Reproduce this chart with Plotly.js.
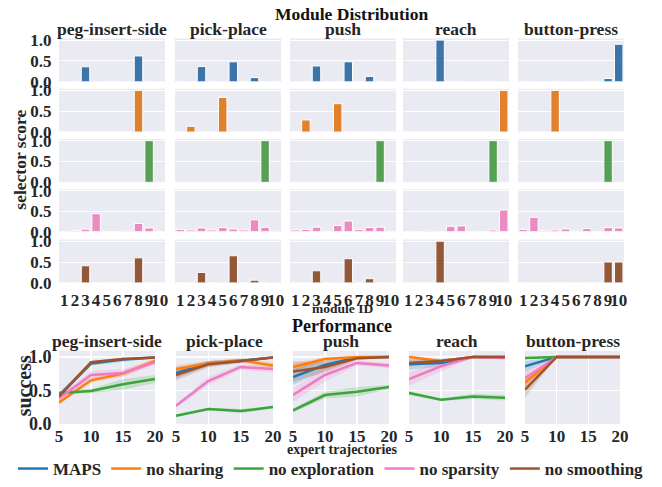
<!DOCTYPE html>
<html><head><meta charset="utf-8">
<script src="https://cdn.plot.ly/plotly-3.0.1.min.js"></script>
<style>html,body{margin:0;padding:0;background:#fff}#chart{width:662px;height:487px}</style>
</head><body><div id="chart"></div>
<script>
// ---------- data ----------
const tasks = ['peg-insert-side', 'pick-place', 'push', 'reach', 'button-press'];
const methods = ['MAPS', 'no sharing', 'no exploration', 'no sparsity', 'no smoothing'];
const moduleIds = ['1', '2', '3', '4', '5', '6', '7', '8', '9', '10'];
const trajectories = [5, 10, 15, 20];

// selector score per task (rows) and module 1..10 (columns)
const MAPS_score = [
  [0, 0, 0.36, 0, 0, 0, 0, 0.62, 0, 0],
  [0.01, 0, 0.365, 0, 0.005, 0.48, 0, 0.10, 0, 0],
  [0, 0, 0.38, 0, 0, 0.48, 0, 0.13, 0, 0],
  [0, 0, 0, 1.0, 0, 0, 0, 0, 0, 0],
  [0, 0, 0, 0, 0, 0, 0, 0, 0.08, 0.9]
];
const noSharing_score = [
  [0, 0, 0, 0, 0, 0, 0, 1.0, 0, 0],
  [0, 0.14, 0, 0, 0.83, 0, 0, 0, 0.01, 0],
  [0.01, 0.29, 0, 0, 0.68, 0, 0, 0, 0, 0],
  [0, 0, 0, 0, 0, 0, 0, 0, 0, 1.0],
  [0, 0, 0, 1.0, 0, 0, 0, 0, 0, 0]
];
const noExploration_score = [
  [0, 0, 0, 0, 0, 0, 0, 0, 1.0, 0],
  [0, 0, 0, 0, 0, 0, 0, 0, 1.0, 0],
  [0, 0, 0, 0, 0, 0, 0, 0, 1.0, 0],
  [0, 0, 0, 0, 0, 0, 0, 0, 1.0, 0],
  [0, 0, 0, 0, 0, 0, 0, 0, 1.0, 0]
];
const noSparsity_score = [
  [0.005, 0.03, 0.06, 0.44, 0.005, 0, 0.015, 0.2, 0.09, 0.005],
  [0.055, 0.04, 0.09, 0.04, 0.1, 0.065, 0.04, 0.29, 0.105, 0.015],
  [0.04, 0.055, 0.11, 0.005, 0.15, 0.26, 0.05, 0.1, 0.11, 0.005],
  [0.005, 0.005, 0.02, 0, 0.13, 0.14, 0.005, 0, 0.04, 0.53],
  [0.055, 0.35, 0.03, 0.04, 0.065, 0.01, 0.075, 0, 0.1, 0.09]
];
const noSmoothing_score = [
  [0, 0, 0.41, 0, 0, 0, 0, 0.6, 0, 0],
  [0, 0, 0.25, 0, 0.01, 0.65, 0, 0.065, 0, 0.01],
  [0, 0, 0.29, 0, 0.01, 0.58, 0, 0.1, 0, 0],
  [0, 0, 0, 1.0, 0, 0, 0, 0, 0, 0],
  [0, 0, 0, 0, 0, 0, 0, 0, 0.5, 0.5]
];

// success per task (rows) at 5,10,15,20 expert trajectories, and confidence half-widths
const MAPS_success = [
  [0.42, 0.90, 0.96, 0.99],
  [0.76, 0.90, 0.94, 0.99],
  [0.70, 0.88, 0.99, 1.00],
  [0.89, 0.91, 1.00, 1.00],
  [0.86, 1.00, 1.00, 1.00]
];
const MAPS_ci = [
  [0.05, 0.03, 0.03, 0.01], [0.08, 0.04, 0.03, 0.01], [0.12, 0.08, 0.02, 0.01],
  [0.08, 0.06, 0.01, 0.01], [0.08, 0, 0, 0]
];
const noSharing_success = [
  [0.32, 0.65, 0.75, 0.94],
  [0.82, 0.90, 0.95, 0.87],
  [0.85, 0.97, 1.00, 1.00],
  [1.00, 0.94, 1.00, 1.00],
  [0.62, 1.00, 1.00, 1.00]
];
const noSharing_ci = [
  [0.03, 0.04, 0.04, 0.04], [0.06, 0.04, 0.03, 0.05], [0.06, 0.03, 0.01, 0.01],
  [0.02, 0.03, 0, 0], [0.1, 0, 0, 0]
];
const noExploration_success = [
  [0.46, 0.49, 0.59, 0.67],
  [0.12, 0.22, 0.19, 0.25],
  [0.20, 0.43, 0.48, 0.55],
  [0.46, 0.36, 0.41, 0.39],
  [0.985, 1.00, 1.00, 1.00]
];
const noExploration_ci = [
  [0.03, 0.03, 0.08, 0.06], [0.02, 0.02, 0.03, 0.02], [0.03, 0.05, 0.07, 0.03],
  [0.03, 0.02, 0.04, 0.04], [0.02, 0, 0, 0]
];
const noSparsity_success = [
  [0.38, 0.73, 0.76, 0.92],
  [0.27, 0.64, 0.85, 0.82],
  [0.43, 0.73, 0.91, 0.87],
  [0.67, 0.86, 1.00, 0.985],
  [0.68, 1.00, 1.00, 1.00]
];
const noSparsity_ci = [
  [0.04, 0.06, 0.06, 0.04], [0.03, 0.06, 0.04, 0.05], [0.1, 0.1, 0.04, 0.04],
  [0.1, 0.08, 0.01, 0.02], [0.12, 0, 0, 0]
];
const noSmoothing_success = [
  [0.41, 0.92, 0.97, 0.99],
  [0.73, 0.89, 0.94, 0.99],
  [0.78, 0.85, 0.98, 1.00],
  [0.91, 0.94, 1.00, 1.00],
  [0.51, 1.00, 1.00, 1.00]
];
const noSmoothing_ci = [
  [0.04, 0.02, 0.02, 0.01], [0.08, 0.05, 0.03, 0.01], [0.15, 0.08, 0.03, 0.01],
  [0.05, 0.03, 0, 0], [0.12, 0, 0, 0]
];

// ---------- styling ----------
const scores = [MAPS_score, noSharing_score, noExploration_score, noSparsity_score, noSmoothing_score];
const successes = [MAPS_success, noSharing_success, noExploration_success, noSparsity_success, noSmoothing_success];
const cis = [MAPS_ci, noSharing_ci, noExploration_ci, noSparsity_ci, noSmoothing_ci];
const barColors = ['#3b75a9', '#e1812c', '#55a055', '#e88cc3', '#935838'];
const lineColors = ['#1f77b4', '#ff7f0e', '#3aa53a', '#f07ac4', '#a0522d'];
const bandColors = ['rgba(31,119,180,0.2)', 'rgba(255,127,14,0.2)', 'rgba(58,165,58,0.2)', 'rgba(240,122,196,0.2)', 'rgba(160,82,45,0.2)'];

const W = 662, H = 487;
const px = x => x / W, py = y => 1 - y / H;
const FAM = 'Liberation Serif, Times New Roman, serif';
const font = (size, color) => ({family: FAM, size: size, color: color || '#262626', weight: 'bold'});

const colX = [[59, 165], [175, 281], [290, 396], [403, 509], [518, 624]];
const rowY = [[39, 83], [90, 134], [141, 185], [192, 235], [243, 287]];
const botX = [[59, 155], [176, 273], [293, 389], [409, 505], [525, 620]];
const botY = [356, 430];

const data = [];
const layout = {
  width: W, height: H,
  margin: {l: 0, r: 0, t: 0, b: 0},
  paper_bgcolor: '#ffffff',
  plot_bgcolor: '#eaeaf2',
  bargap: 0.2,
  font: font(16),
  showlegend: true,
  legend: {orientation: 'h', x: 0.5, xanchor: 'center', y: py(476), yanchor: 'middle',
           font: font(17), bgcolor: 'rgba(0,0,0,0)', tracegroupgap: 0},
  annotations: []
};

// top bar grid
for (let r = 0; r < 5; r++) {
  for (let c = 0; c < 5; c++) {
    const n = r * 5 + c + 1;
    const xa = 'xaxis' + (n === 1 ? '' : n), ya = 'yaxis' + (n === 1 ? '' : n);
    layout[xa] = {
      domain: [px(colX[c][0]), px(colX[c][1])], anchor: 'y' + (n === 1 ? '' : n),
      type: 'category', range: [-0.5, 9.5], tickmode: 'array', tickvals: moduleIds, ticktext: moduleIds,
      tickangle: 0, showgrid: false, zeroline: false,
      showticklabels: r === 4, tickfont: font(17), ticks: 'outside', ticklen: 2,
      tickcolor: 'rgba(0,0,0,0)', showline: false, fixedrange: true
    };
    layout[ya] = {
      domain: [py(rowY[r][1]), py(rowY[r][0])], anchor: 'x' + (n === 1 ? '' : n),
      range: [0, 1.04], tickvals: [0, 0.5, 1], ticktext: ['0.0', '0.5', '1.0'],
      showgrid: true, gridcolor: '#ffffff', gridwidth: 1, zeroline: false,
      showticklabels: c === 0, tickfont: font(17), ticks: 'outside', ticklen: 3,
      tickcolor: 'rgba(0,0,0,0)', showline: false, fixedrange: true
    };
    data.push({
      type: 'bar', x: moduleIds, y: scores[r][c],
      xaxis: 'x' + (n === 1 ? '' : n), yaxis: 'y' + (n === 1 ? '' : n),
      marker: {color: barColors[r], line: {color: '#ffffff', width: 1}},
      showlegend: false, hoverinfo: 'skip'
    });
  }
}

// bottom line row
for (let c = 0; c < 5; c++) {
  const n = 26 + c;
  layout['xaxis' + n] = {
    domain: [px(botX[c][0]), px(botX[c][1])], anchor: 'y' + n,
    range: [5, 20], tickmode: 'array', tickvals: trajectories, ticktext: trajectories.map(String),
    tickangle: 0, showgrid: true, gridcolor: '#ffffff', gridwidth: 1.2, zeroline: false,
    tickfont: font(17), ticks: '', showline: false, fixedrange: true
  };
  layout['yaxis' + n] = {
    domain: [py(botY[1]), py(botY[0])], anchor: 'x' + n,
    range: [0, 1.09], tickvals: [0, 0.5, 1], ticktext: ['0.0', '0.5', '1.0'],
    showgrid: true, gridcolor: '#ffffff', gridwidth: 1.2, zeroline: false,
    showticklabels: c === 0, tickfont: font(18), ticks: 'outside', ticklen: 3,
    tickcolor: 'rgba(0,0,0,0)', showline: false, fixedrange: true
  };
  for (let m = 0; m < 5; m++) {
    const mean = successes[m][c], ci = cis[m][c];
    const hi = mean.map((v, i) => v + ci[i]);
    const lo = mean.map((v, i) => v - ci[i]);
    data.push({
      type: 'scatter', mode: 'lines',
      x: trajectories.concat(trajectories.slice().reverse()),
      y: hi.concat(lo.slice().reverse()),
      fill: 'toself', fillcolor: bandColors[m], line: {width: 0, color: 'rgba(0,0,0,0)'},
      xaxis: 'x' + n, yaxis: 'y' + n, showlegend: false, hoverinfo: 'skip'
    });
  }
  for (let m = 0; m < 5; m++) {
    data.push({
      type: 'scatter', mode: 'lines', x: trajectories, y: successes[m][c],
      line: {color: lineColors[m], width: 2.5},
      xaxis: 'x' + n, yaxis: 'y' + n, name: methods[m], legendgroup: methods[m],
      showlegend: c === 0, hoverinfo: 'skip'
    });
  }
}

// annotations
const ann = (text, x, y, size, extra) => Object.assign({
  text: text, x: x, y: y, xref: 'paper', yref: 'paper', showarrow: false,
  xanchor: 'center', yanchor: 'middle', font: font(size, '#111')
}, extra || {});
layout.annotations.push(ann('Module Distribution', px(351), py(14), 17.5));
layout.annotations.push(ann('Performance', px(342), py(331), 18));
for (let c = 0; c < 5; c++) {
  layout.annotations.push(ann(tasks[c], px((colX[c][0] + colX[c][1]) / 2), py(29), 17.5, {font: font(17.5, '#262626')}));
  layout.annotations.push(ann(tasks[c], px((botX[c][0] + botX[c][1]) / 2), py(346), 17.5, {font: font(17.5, '#262626')}));
}
layout.annotations.push(ann('selector score', px(20), py(162), 17.5, {textangle: -90, font: font(17.5, '#262626')}));
layout.annotations.push(ann('success', px(24), py(392), 20, {textangle: -90, font: font(20, '#262626')}));
layout.annotations.push(ann('module ID', px(342), py(313), 13.5, {font: font(13.5, '#262626')}));
layout.annotations.push(ann('expert trajectories', px(342), py(456), 14, {font: font(14, '#262626')}));

Plotly.newPlot('chart', data, layout, {displayModeBar: false, staticPlot: true});
</script>
</body></html>
